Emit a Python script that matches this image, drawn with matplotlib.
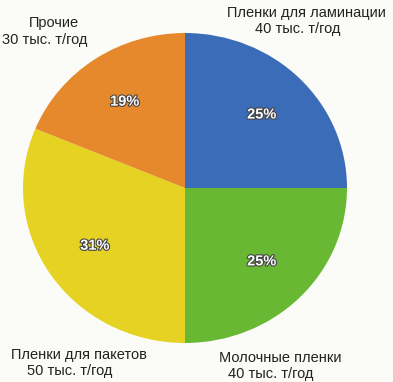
import matplotlib.pyplot as plt
import matplotlib.patheffects as pe

categories = ['Пленки для ламинации', 'Молочные пленки', 'Пленки для пакетов', 'Прочие']
volumes = [40, 40, 50, 30]  # тыс. т/год
colors = ['#3b6cb8', '#69b834', '#e6d222', '#e5892c']

# text positions in pixel coords of the original picture: (name line, value line)
name_pos = [(306, 13), (280, 358), (79, 355), (54, 23)]
value_pos = [(298, 29), (271, 374), (70, 371), (45, 40)]

W, H = 393, 382
cx, cy = 185, 188      # pie centre, px
rx, ry = 162, 155      # scanned pie is slightly oval


def to_data(x, y):
    return (x - cx) / rx, (cy - y) / ry


plt.rcParams['font.family'] = ['Liberation Sans', 'DejaVu Sans']

fig = plt.figure(figsize=(W / 100, H / 100), dpi=100)
fig.patch.set_facecolor('#fbfbf8')
ax = fig.add_axes([0, 0, 1, 1])
ax.set_facecolor('#fbfbf8')

wedges, texts, autotexts = ax.pie(
    volumes, colors=colors, startangle=90, counterclock=False,
    radius=1, center=(0, 0), autopct='%1.0f%%', pctdistance=0.67,
    wedgeprops=dict(linewidth=0),
)
for t in autotexts:
    t.set_color('white')
    t.set_fontsize(10.5)
    t.set_fontweight('bold')
    t.set_path_effects([pe.withStroke(linewidth=1.6, foreground='#444444')])

for name, v, p1, p2 in zip(categories, volumes, name_pos, value_pos):
    ax.text(*to_data(*p1), name, ha='center', va='center',
            fontsize=10.5, color='#222222')
    ax.text(*to_data(*p2), f'{v} тыс. т/год', ha='center', va='center',
            fontsize=10.5, color='#222222')

ax.set_aspect('auto')
x0, y0 = to_data(0, H)
x1, y1 = to_data(W, 0)
ax.set_xlim(x0, x1)
ax.set_ylim(y0, y1)
ax.axis('off')

plt.savefig('out.png', dpi=100, facecolor=fig.get_facecolor())
